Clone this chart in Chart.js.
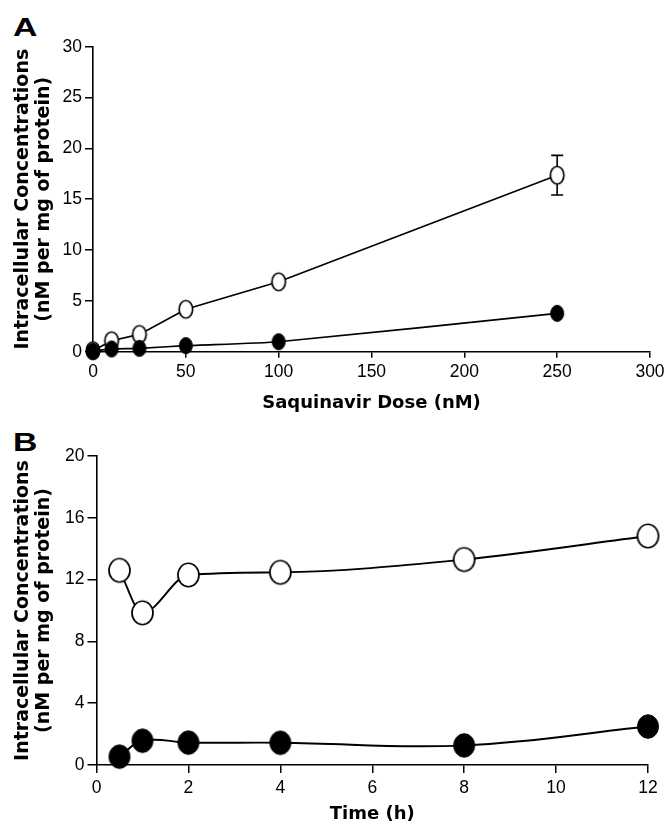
<!DOCTYPE html>
<html>
<head>
<meta charset="utf-8">
<script src="https://cdn.jsdelivr.net/npm/chart.js@4"></script>
<style>
  html,body{margin:0;padding:0;background:#fff;}
  body{width:670px;height:825px;position:relative;overflow:hidden;}
  .wrap{position:absolute;left:0;width:670px;}
  .panel{position:absolute;left:13px;font-family:"Liberation Sans",Arial,sans-serif;font-weight:bold;font-size:26px;line-height:26px;color:#000;transform:scaleX(1.3);transform-origin:left top;}
</style>
</head>
<body>
<div class="panel" style="top:14px;">A</div>
<div class="panel" style="top:429px;">B</div>
<div class="wrap" style="top:0;height:420px;"><canvas id="cA" width="670" height="420"></canvas></div>
<div class="wrap" style="top:420px;height:405px;"><canvas id="cB" width="670" height="405"></canvas></div>
<script>
// ---- Panel A data ----
const doseA = [0, 10, 25, 50, 100, 250];
const openA = [0.1, 1.08, 1.7, 4.17, 6.88, 17.36];
const filledA = [0.05, 0.27, 0.33, 0.6, 0.98, 3.77];
const errOpenA = [0, 0, 0, 0, 0, 1.95];
const xTicksA = [0, 50, 100, 150, 200, 250, 300];
const yTicksA = [0, 5, 10, 15, 20, 25, 30];
const xTitleA = "Saquinavir Dose (nM)";

// ---- Panel B data ----
const timeB = [0.5, 1, 2, 4, 8, 12];
const openB = [12.6, 9.85, 12.3, 12.47, 13.3, 14.82];
const filledB = [0.54, 1.57, 1.45, 1.44, 1.27, 2.49];
const xTicksB = [0, 2, 4, 6, 8, 10, 12];
const yTicksB = [0, 4, 8, 12, 16, 20];
const xTitleB = "Time (h)";

const yTitle = ["Intracellular Concentrations", "(nM per mg of protein)"];

function marker(w, h, filled, lw) {
  const c = document.createElement('canvas');
  c.width = Math.ceil(w + lw + 2); c.height = Math.ceil(h + lw + 2);
  const g = c.getContext('2d');
  g.beginPath();
  g.ellipse(c.width / 2, c.height / 2, w / 2, h / 2, 0, 0, Math.PI * 2);
  g.fillStyle = filled ? '#000' : '#fff';
  g.fill();
  g.lineWidth = lw; g.strokeStyle = '#000';
  g.stroke();
  return c;
}

const tickFont = {family: '"Liberation Sans", Arial, sans-serif', size: 17.5};
const titleFontX = {family: '"DejaVu Sans", sans-serif', weight: 'bold', size: 18};
const titleFontY = {family: '"DejaVu Sans", sans-serif', weight: 'bold', size: 19, lineHeight: 1.12};

function toPts(xs, ys) { return xs.map((x, i) => ({x: x, y: ys[i]})); }

const errorBars = {
  id: 'errorBars',
  beforeDatasetsDraw(chart, args, opts) {
    if (!opts.err) return;
    const ctx = chart.ctx, xs = chart.scales.x, ys = chart.scales.y;
    ctx.save();
    ctx.strokeStyle = '#000'; ctx.lineWidth = 1.6;
    opts.xs.forEach((xv, i) => {
      const e = opts.err[i];
      if (!e) return;
      const px = xs.getPixelForValue(xv);
      const top = ys.getPixelForValue(opts.ys[i] + e);
      const bot = ys.getPixelForValue(opts.ys[i] - e);
      ctx.beginPath();
      ctx.moveTo(px, top); ctx.lineTo(px, bot);
      ctx.moveTo(px - 6, top); ctx.lineTo(px + 6, top);
      ctx.moveTo(px - 6, bot); ctx.lineTo(px + 6, bot);
      ctx.stroke();
    });
    ctx.restore();
  }
};

function axisCommon(tickLen, pad) {
  return {
    grid: {display: true, drawOnChartArea: false, drawTicks: true, tickLength: tickLen, color: '#000', lineWidth: 1.5},
    border: {display: true, color: '#000', width: 1.6},
    ticks: {color: '#000', font: tickFont, padding: pad, maxRotation: 0, autoSkip: false}
  };
}

function makeChart(id, cfg) {
  const xc = axisCommon(cfg.xTick, cfg.xPad);
  const yc = axisCommon(cfg.yTick, cfg.yPad);
  return new Chart(document.getElementById(id), {
    type: 'line',
    data: {
      datasets: [
        {data: toPts(cfg.xs, cfg.filled), borderColor: '#000', borderWidth: cfg.lw, tension: cfg.tensionF,
         cubicInterpolationMode: cfg.modeF,
         pointStyle: marker(cfg.fw, cfg.fh, true, 1), pointRadius: 8, clip: false, fill: false},
        {data: toPts(cfg.xs, cfg.open), borderColor: '#000', borderWidth: cfg.lw, tension: cfg.tensionO,
         cubicInterpolationMode: cfg.modeO,
         pointStyle: marker(cfg.ow, cfg.oh, false, 1.7), pointRadius: 8, clip: false, fill: false}
      ]
    },
    options: {
      responsive: false, animation: false, devicePixelRatio: 1,
      layout: {padding: cfg.padding},
      plugins: {legend: {display: false}, tooltip: {enabled: false},
        errorBars: {xs: cfg.xs, ys: cfg.open, err: cfg.err}},
      scales: {
        x: Object.assign({}, xc, {
          type: 'linear', position: 'bottom', min: cfg.xMin, max: cfg.xMax,
          afterBuildTicks: s => { s.ticks = cfg.xTicks.map(v => ({value: v})); },
          afterFit: s => { s.height = cfg.xH; },
          title: {display: true, text: cfg.xTitle, color: '#000', font: titleFontX, padding: {top: 0, bottom: cfg.xTitlePad}}
        }),
        y: Object.assign({}, yc, {
          type: 'linear', position: 'left', min: cfg.yMin, max: cfg.yMax,
          afterBuildTicks: s => { s.ticks = cfg.yTicks.map(v => ({value: v})); },
          afterFit: s => { s.width = cfg.yW; },
          title: {display: true, text: yTitle, color: '#000', font: titleFontY, padding: {top: 12, bottom: 0}}
        })
      }
    },
    plugins: [errorBars]
  });
}

makeChart('cA', {
  xs: doseA, open: openA, filled: filledA, err: errOpenA,
  xTicks: xTicksA, yTicks: yTicksA, xTitle: xTitleA,
  xMin: 0, xMax: 300, yMin: 0, yMax: 30,
  padding: {left: 0, right: 20, top: 46.7, bottom: 0},
  xH: 68.3, yW: 93, xTick: 6, xPad: 4, yTick: 8, yPad: 3, xTitlePad: 6,
  lw: 1.7, tensionF: 0.2, tensionO: 0, modeF: 'default', modeO: 'default',
  ow: 13.5, oh: 17.5, fw: 13, fh: 16
});

makeChart('cB', {
  xs: timeB, open: openB, filled: filledB, err: null,
  xTicks: xTicksB, yTicks: yTicksB, xTitle: xTitleB,
  xMin: 0, xMax: 12, yMin: 0, yMax: 20,
  padding: {left: 0, right: 22, top: 36, bottom: 0},
  xH: 60, yW: 96.5, xTick: 8, xPad: 5, yTick: 9, yPad: 3, xTitlePad: 0,
  lw: 1.9, tensionF: 0.4, tensionO: 0.4, modeF: 'default', modeO: 'monotone',
  ow: 21, oh: 23.5, fw: 21, fh: 23.5
});
</script>
</body>
</html>
